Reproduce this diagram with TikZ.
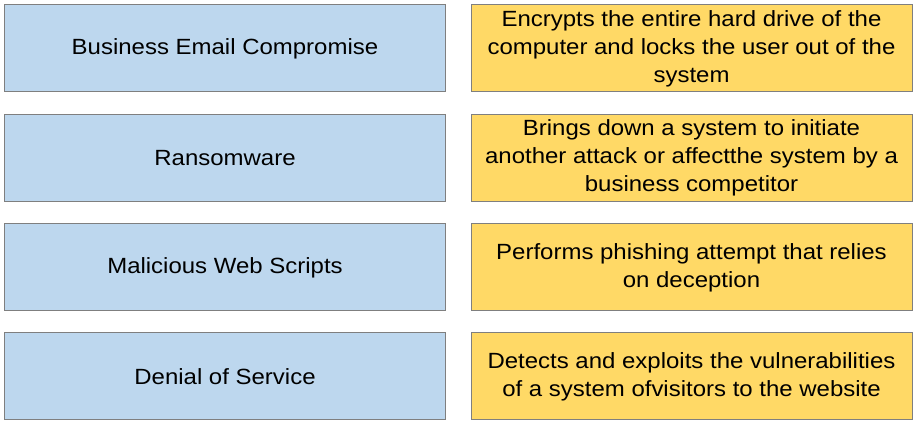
\documentclass[tikz,border=0pt]{standalone}
\usepackage{fontspec}
\setmainfont{Liberation Sans}[FakeStretch=1.09]
\definecolor{boxblue}{HTML}{BDD7EE}
\definecolor{boxyellow}{HTML}{FFD966}
\definecolor{boxedge}{HTML}{7F7F7F}
\begin{document}
\begin{tikzpicture}[x=1pt,y=-1pt,
  cell/.style={draw=boxedge, line width=1pt, minimum width=441pt, minimum height=87pt,
    inner sep=0pt, align=center, font=\fontsize{22}{28}\selectfont, text=black},
  termbox/.style={cell, fill=boxblue},
  descbox/.style={cell, fill=boxyellow}]
\useasboundingbox (0,0) rectangle (916,427);
\node[termbox] (t1) at (225,48.5) {Business Email Compromise};
\node[termbox] (t2) at (225,158) {Ransomware};
\node[termbox] (t3) at (225,267.5) {Malicious Web Scripts};
\node[termbox] (t4) at (225,376.5) {Denial of Service};
\node[descbox] (d1) at (691.5,48.5) {Encrypts the entire hard drive of the\\computer and locks the user out of the\\system};
\node[descbox] (d2) at (691.5,158) {Brings down a system to initiate\\another attack or affectthe system by a\\business competitor};
\node[descbox] (d3) at (691.5,267.5) {Performs phishing attempt that relies\\on deception};
\node[descbox] (d4) at (691.5,376.5) {Detects and exploits the vulnerabilities\\of a system ofvisitors to the website};
\end{tikzpicture}
\end{document}
